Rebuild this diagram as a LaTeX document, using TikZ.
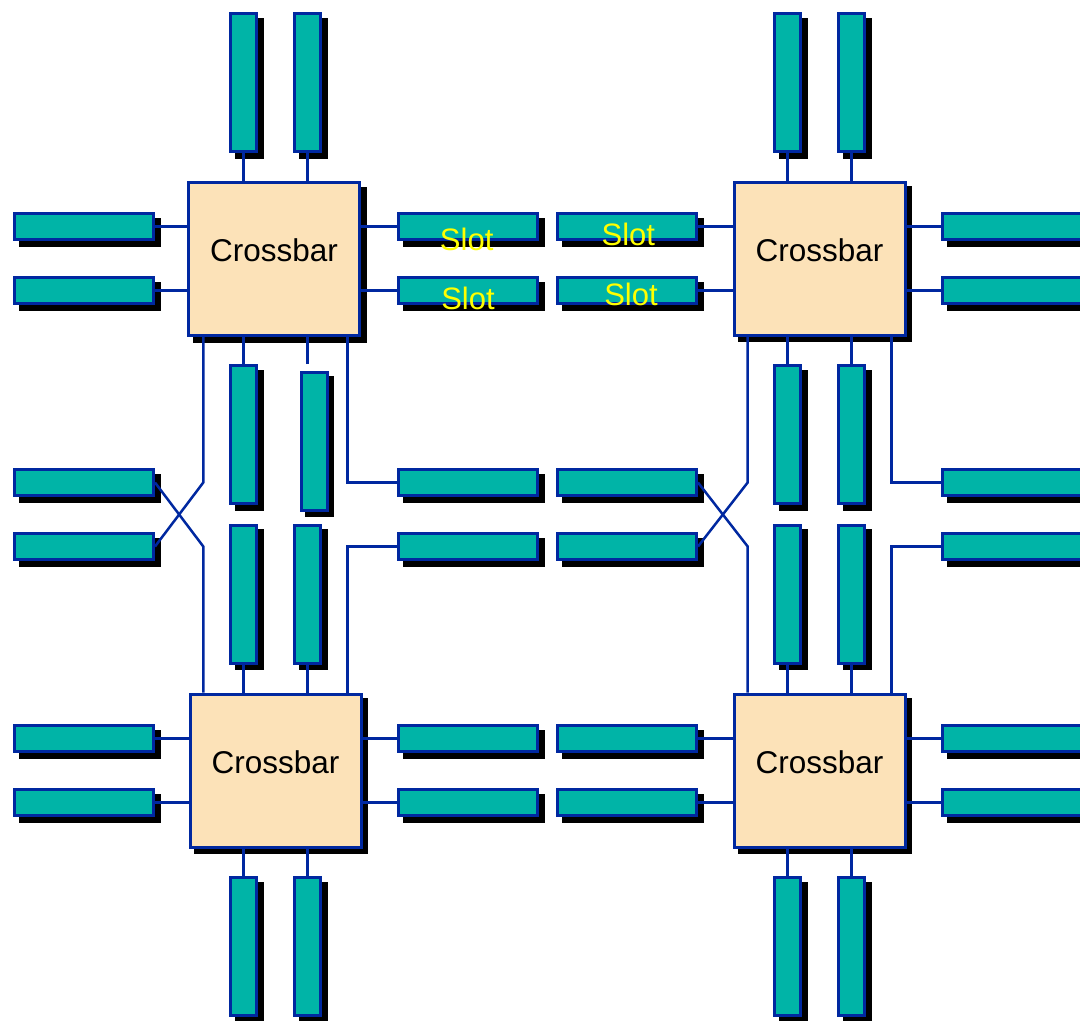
\documentclass[tikz,border=0pt]{standalone}
\usepackage{fontspec}
\setmainfont{Liberation Sans}
\usetikzlibrary{shadows}
\definecolor{slotfill}{RGB}{0,180,167}
\definecolor{wire}{RGB}{0,40,160}
\definecolor{xbarfill}{RGB}{252,226,184}
\definecolor{labelyellow}{RGB}{255,255,0}
\begin{document}
\begin{tikzpicture}[x=1pt,y=-1pt,
  boxshadow/.style={general shadow={fill=black,draw=black,line width=3pt,
      shadow xshift=5.5pt,shadow yshift=-5.5pt}},
  hslot/.style={rectangle,draw=wire,fill=slotfill,line width=3pt,inner sep=0pt,
      minimum width=139pt,minimum height=26pt,boxshadow},
  vslot/.style={rectangle,draw=wire,fill=slotfill,line width=3pt,inner sep=0pt,
      minimum width=26pt,minimum height=138pt,boxshadow},
  xbar/.style={rectangle,draw=wire,fill=xbarfill,line width=3pt,inner sep=0pt,
      minimum width=171pt,minimum height=153pt,boxshadow,
      font=\fontsize{31.5}{36}\selectfont,text height=22pt,text depth=17pt},
  slottext/.style={anchor=base,inner sep=0pt,text=labelyellow,
      font=\fontsize{31}{36}\selectfont},
  link/.style={draw=wire,line width=2.5pt}]
\useasboundingbox (0,0) rectangle (1080,1021);

% crossbar switches
\node[xbar] (cbTL) at (274,259)     {Crossbar};
\node[xbar] (cbTR) at (819.5,258.5) {Crossbar};
\node[xbar] (cbBL) at (275.5,770.5) {Crossbar};
\node[xbar] (cbBR) at (819.5,770.5) {Crossbar};

% top row of vertical slots
\node[vslot] (tA1) at (243.5,82.5) {};
\node[vslot] (tA2) at (307.5,82.5) {};
\node[vslot] (tB1) at (787.5,82.5) {};
\node[vslot] (tB2) at (851.5,82.5) {};

% middle vertical slots, upper and lower
\node[vslot] (uA1) at (243.5,434.5) {};
\node[vslot] (uA2) at (314,441)     {};
\node[vslot] (uB1) at (787.5,434.5) {};
\node[vslot] (uB2) at (851.5,434.5) {};
\node[vslot] (dA1) at (243.5,594)   {};
\node[vslot] (dA2) at (307.5,594)   {};
\node[vslot] (dB1) at (787.5,594)   {};
\node[vslot] (dB2) at (851.5,594)   {};

% bottom row of vertical slots
\node[vslot] (bA1) at (243.5,946.5) {};
\node[vslot] (bA2) at (307.5,946.5) {};
\node[vslot] (bB1) at (787.5,946.5) {};
\node[vslot] (bB2) at (851.5,946.5) {};

% horizontal slots: four columns, six rows
\foreach \c/\x in {L/84,M/468,N/627,R/1012}{
  \foreach \r/\y in {1/226.5,2/290.5,3/482.5,4/546.5,5/738.5,6/802.5}{
    \node[hslot] (h\c\r) at (\x,\y) {};
  }
}

% slot captions
\node[slottext] (capM1) at (466.7,250)   {Slot};
\node[slottext] (capM2) at (468,309.3)   {Slot};
\node[slottext] (capN1) at (628.3,245)   {Slot};
\node[slottext] (capN2) at (631,305)     {Slot};

% vertical guide positions for the long wires
\coordinate (gA) at (203.3,0);
\coordinate (gB) at (347.5,0);
\coordinate (gC) at (747.7,0);
\coordinate (gD) at (891.7,0);
\coordinate (stub) at (307.7,364);

% top-left crossbar
\draw[link] (tA1.south) -- (tA1.south |- cbTL.north);
\draw[link] (tA2.south) -- (tA2.south |- cbTL.north);
\draw[link] (hL1.east) -- (hL1.east -| cbTL.west);
\draw[link] (hL2.east) -- (hL2.east -| cbTL.west);
\draw[link] (hM1.west) -- (hM1.west -| cbTL.east);
\draw[link] (hM2.west) -- (hM2.west -| cbTL.east);
\draw[link] (uA1.north) -- (uA1.north |- cbTL.south);
\draw[link] (stub) -- (stub |- cbTL.south);

% top-right crossbar
\draw[link] (tB1.south) -- (tB1.south |- cbTR.north);
\draw[link] (tB2.south) -- (tB2.south |- cbTR.north);
\draw[link] (hN1.east) -- (hN1.east -| cbTR.west);
\draw[link] (hN2.east) -- (hN2.east -| cbTR.west);
\draw[link] (hR1.west) -- (hR1.west -| cbTR.east);
\draw[link] (hR2.west) -- (hR2.west -| cbTR.east);
\draw[link] (uB1.north) -- (uB1.north |- cbTR.south);
\draw[link] (uB2.north) -- (uB2.north |- cbTR.south);

% bottom-left crossbar
\draw[link] (dA1.south) -- (dA1.south |- cbBL.north);
\draw[link] (dA2.south) -- (dA2.south |- cbBL.north);
\draw[link] (hL5.east) -- (hL5.east -| cbBL.west);
\draw[link] (hL6.east) -- (hL6.east -| cbBL.west);
\draw[link] (hM5.west) -- (hM5.west -| cbBL.east);
\draw[link] (hM6.west) -- (hM6.west -| cbBL.east);
\draw[link] (bA1.north) -- (bA1.north |- cbBL.south);
\draw[link] (bA2.north) -- (bA2.north |- cbBL.south);

% bottom-right crossbar
\draw[link] (dB1.south) -- (dB1.south |- cbBR.north);
\draw[link] (dB2.south) -- (dB2.south |- cbBR.north);
\draw[link] (hN5.east) -- (hN5.east -| cbBR.west);
\draw[link] (hN6.east) -- (hN6.east -| cbBR.west);
\draw[link] (hR5.west) -- (hR5.west -| cbBR.east);
\draw[link] (hR6.west) -- (hR6.west -| cbBR.east);
\draw[link] (bB1.north) -- (bB1.north |- cbBR.south);
\draw[link] (bB2.north) -- (bB2.north |- cbBR.south);

% crossed wires to the middle slots on the left of each column
\draw[link] (gA |- cbTL.south) -- (gA |- hL3.east) -- (hL4.east);
\draw[link] (hL3.east) -- (gA |- hL4.east) -- (gA |- cbBL.north);
\draw[link] (gC |- cbTR.south) -- (gC |- hN3.east) -- (hN4.east);
\draw[link] (hN3.east) -- (gC |- hN4.east) -- (gC |- cbBR.north);

% elbow wires to the middle slots on the right of each column
\draw[link] (hM3.west) -| (gB |- cbTL.south);
\draw[link] (hM4.west) -| (gB |- cbBL.north);
\draw[link] (hR3.west) -| (gD |- cbTR.south);
\draw[link] (hR4.west) -| (gD |- cbBR.north);
\end{tikzpicture}
\end{document}
